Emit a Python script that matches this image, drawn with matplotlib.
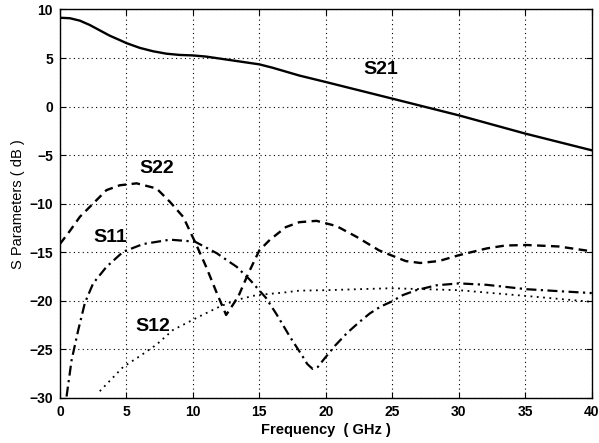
import matplotlib
matplotlib.use('Agg')
import matplotlib.pyplot as plt

plt.rcParams['font.family'] = ['Liberation Sans', 'DejaVu Sans']

# values (frequency in GHz, S parameters in dB)
f_s21 = [0, 0.75, 1.5, 2.25, 3, 3.75, 4.5, 5, 6, 7, 8, 9, 10, 11, 12.5, 14, 15, 16,
         18, 20, 25, 30, 35, 40]
s21 = [9.15, 9.1, 8.85, 8.4, 7.85, 7.3, 6.85, 6.54, 6.05, 5.7, 5.45, 5.32, 5.27, 5.15,
       4.85, 4.55, 4.35, 4.0, 3.2, 2.53, 0.82, -0.9, -2.78, -4.5]

f_s22 = [0, 0.75, 1.5, 2.63, 3.5, 4.5, 5.77, 7.27, 8.27, 9.27, 10.15, 11.0, 11.8, 12.5,
         13.4, 14.16, 15.0, 15.8, 17.0, 18.0, 19.3, 20.8, 22.3, 24, 24.9, 26, 27.1,
         28.5, 30, 32.1, 33.5, 35.1, 37.5, 40]
s22 = [-14.15, -12.8, -11.35, -9.8, -8.6, -8.1, -7.9, -8.43, -9.8, -11.35, -13.9, -16.5,
       -19.2, -21.45, -19.6, -17.2, -14.8, -13.7, -12.4, -11.9, -11.76, -12.3, -13.4,
       -14.8, -15.3, -15.9, -16.1, -15.9, -15.3, -14.6, -14.3, -14.25, -14.4, -14.9]

f_s11 = [0.5, 0.88, 1.38, 1.88, 2.5, 3.5, 4.76, 6.26, 8.27, 10.15, 11.8, 13.3, 14.3,
         15.5, 16.3, 17.3, 18.2, 18.6, 19.0, 19.4, 19.8, 20.7, 21.6, 22.5, 23.3, 24.1,
         24.9, 25.8, 26.8, 28.3, 30, 32.1, 35.1, 37.5, 40]
s11 = [-29.85, -26.1, -23, -20.2, -18.2, -16.5, -14.94, -14.15, -13.7, -13.9, -15.1,
       -16.5, -17.85, -19.7, -21.4, -23.7, -25.6, -26.5, -27.0, -26.8, -26.1, -24.6,
       -23.3, -22.2, -21.3, -20.6, -20.1, -19.4, -18.9, -18.4, -18.2, -18.35, -18.8,
       -19.0, -19.2]

f_s12 = [3.0, 4.76, 6.0, 7.27, 8.5, 10.5, 12.0, 13.3, 14.8, 16.8, 18, 20, 24.9, 30,
         35.1, 40]
s12 = [-29.3, -26.8, -25.7, -24.5, -23.0, -21.6, -20.6, -19.9, -19.4, -19.15, -18.95,
       -18.9, -18.7, -18.9, -19.5, -20.1]

labels = ['S21', 'S22', 'S11', 'S12']
label_x = [24.1, 7.3, 3.8, 7.0]
label_y = [3.8, -6.4, -13.5, -22.6]

fig = plt.figure(figsize=(5.99, 4.43), dpi=100)
ax = fig.add_axes([0.1, 0.1016, 0.888, 0.877])

ax.plot(f_s21, s21, color='black', lw=1.7, linestyle='-')
ax.plot(f_s22, s22, color='black', lw=1.7, linestyle=(0, (3.6, 2.3)))
ax.plot(f_s11, s11, color='black', lw=1.6, linestyle=(0, (4.5, 2, 1, 2)))
ax.plot(f_s12, s12, color='black', lw=1.3, linestyle=(0, (1, 2.5)))

for lab, x, y in zip(labels, label_x, label_y):
    ax.text(x, y, lab, fontsize=14, fontweight='bold', ha='center', va='center')

ax.set_xlim(0, 40)
ax.set_ylim(-30, 10)
ax.set_xticks(range(0, 41, 5))
ax.set_yticks(range(-30, 11, 5))
ax.grid(True, color='black', linestyle=(0, (1, 3)), linewidth=0.8)
ax.tick_params(direction='in', top=True, right=True, labelsize=10, length=4, pad=5)
for t in ax.get_xticklabels() + ax.get_yticklabels():
    t.set_fontweight('bold')
for s in ax.spines.values():
    s.set_linewidth(1.0)

ax.set_xlabel('Frequency  ( GHz )', fontsize=10.5, fontweight='bold', labelpad=3)
ax.set_ylabel('S Parameters ( dB )', fontsize=10.5, labelpad=3)

fig.savefig('out.png', dpi=100)
